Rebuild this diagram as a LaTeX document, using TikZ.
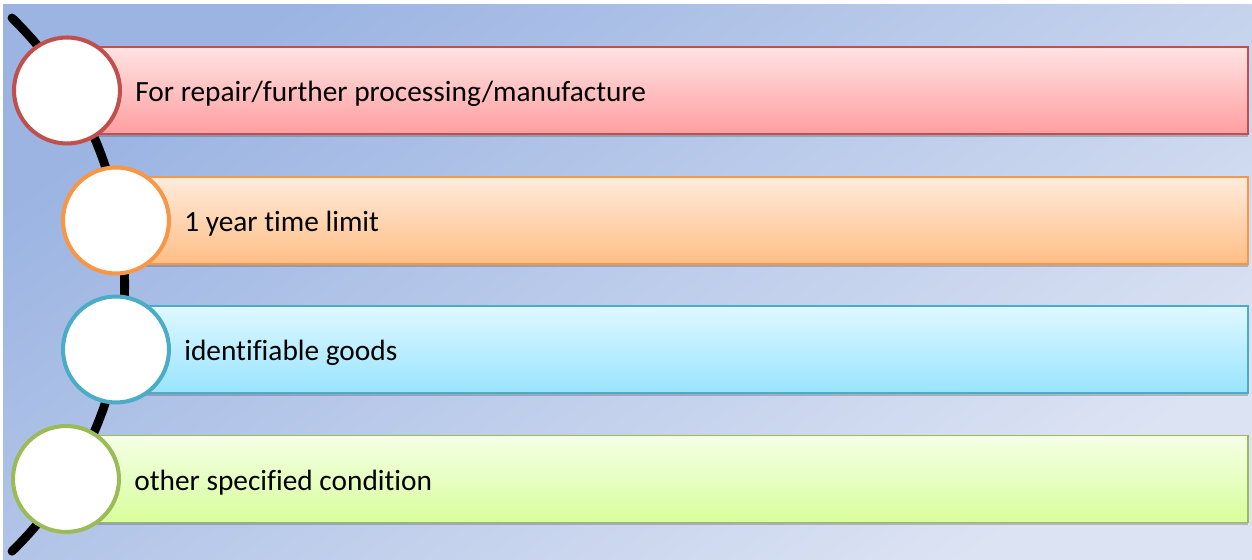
\documentclass[tikz,border=0pt]{standalone}
\usepackage{fontspec}
\setmainfont{Carlito}[Ligatures=NoCommon]
\usetikzlibrary{positioning,shadows}
\definecolor{Backdrop}{HTML}{9BB4E2}
\definecolor{BackdropLight}{HTML}{DCE3F3}
\definecolor{RedLine}{HTML}{C0504D}
\definecolor{RedTop}{HTML}{FFE3E3}
\definecolor{RedBottom}{HTML}{FF9EA0}
\definecolor{OrangeLine}{HTML}{F79646}
\definecolor{OrangeTop}{HTML}{FFEBDC}
\definecolor{OrangeBottom}{HTML}{FFBE85}
\definecolor{BlueLine}{HTML}{4BACC6}
\definecolor{BlueTop}{HTML}{DFF8FF}
\definecolor{BlueBottom}{HTML}{98E4FE}
\definecolor{GreenLine}{HTML}{9BBB59}
\definecolor{GreenTop}{HTML}{F5FFE6}
\definecolor{GreenBottom}{HTML}{D8FE9B}
\tikzset{
  bar/.style n args={3}{
    draw=#1, line width=1.1pt, top color=#2, bottom color=#3,
    minimum height=1.74cm, anchor=west, inner sep=0pt,
    drop shadow={shadow xshift=0.4pt, shadow yshift=-1.6pt, opacity=0.3, fill=black!70}
  },
  bead/.style={
    circle, draw=#1, line width=2.3pt, fill=white,
    minimum size=2.12cm, inner sep=0pt
  },
  itemtext/.style={inner sep=0pt, yshift=-2pt, font=\fontsize{16.7}{20}\selectfont},
  spine/.style={line width=5pt, draw=black, line cap=round}
}

\begin{document}
\begin{tikzpicture}[x=0.02cm,y=0.02cm]
  \useasboundingbox (0,0) rectangle (1252,560);
  \shade[top color=Backdrop, bottom color=BackdropLight, shading angle=35] (3,0) rectangle (1252,555);
  % curved spine behind the beads
  \coordinate (spineTop) at (12,542);
  \coordinate (spineBot) at (10,8);
  \draw[spine] (spineTop) arc[start angle=45.8, end angle=-45.8, radius=7.44cm];
  % bars
  \node[bar={RedLine}{RedTop}{RedBottom}, minimum width=23.6cm] (b1) at (67,469.5) {};
  \node[bar={OrangeLine}{OrangeTop}{OrangeBottom}, minimum width=22.62cm] (b2) at (116,339.5) {};
  \node[bar={BlueLine}{BlueTop}{BlueBottom}, minimum width=22.62cm] (b3) at (116,210.5) {};
  \node[bar={GreenLine}{GreenTop}{GreenBottom}, minimum width=23.62cm] (b4) at (66,81) {};
  % beads
  \node[bead=RedLine] (c1) at (b1.west) {};
  \node[bead=OrangeLine] (c2) at (b2.west) {};
  \node[bead=BlueLine] (c3) at (b3.west) {};
  \node[bead=GreenLine] (c4) at (b4.west) {};
  % labels
  \node[itemtext, right=0.26cm of c1] (t1) {For repair/further processing/manufacture};
  \node[itemtext, right=0.26cm of c2] (t2) {1 year time limit};
  \node[itemtext, right=0.26cm of c3] (t3) {identifiable goods};
  \node[itemtext, right=0.26cm of c4] (t4) {other specified condition};
\end{tikzpicture}
\end{document}
